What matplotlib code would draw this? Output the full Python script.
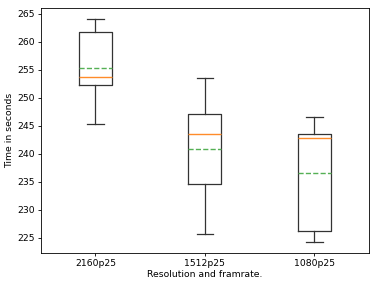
import matplotlib
matplotlib.use("Agg")
import matplotlib.pyplot as plt

labels = ["2160p25", "1512p25", "1080p25"]
whislo = [245.3, 225.6, 224.2]
q1 = [252.3, 234.6, 226.2]
med = [253.7, 243.5, 242.8]
mean = [255.4, 240.9, 236.6]
q3 = [261.8, 247.1, 243.5]
whishi = [264.1, 253.5, 246.5]

stats = []
for i in range(len(labels)):
    stats.append(dict(label=labels[i], whislo=whislo[i], q1=q1[i], med=med[i],
                      mean=mean[i], q3=q3[i], whishi=whishi[i], fliers=[]))

plt.rcParams['font.size'] = 6.7
fig = plt.figure(figsize=(3.71, 2.81), dpi=100)
ax = fig.add_axes([0.1097, 0.0986, 0.885, 0.874])
lw = 0.9
ax.bxp(stats, showmeans=True, meanline=True,
       boxprops=dict(linewidth=lw, color='#333333'),
       whiskerprops=dict(linewidth=lw, color='#333333'),
       capprops=dict(linewidth=lw, color='#333333'),
       medianprops=dict(linewidth=1.0, color='#ff8c2a'),
       meanprops=dict(linewidth=1.0, color='#55b055', linestyle='--'))
ax.set_xlabel("Resolution and framrate.", labelpad=1.5)
ax.set_ylabel("Time in seconds", labelpad=2)
for s in ax.spines.values():
    s.set_linewidth(0.6)
ax.tick_params(width=0.6, length=2.2, pad=2)
fig.savefig("out.png", dpi=100)
